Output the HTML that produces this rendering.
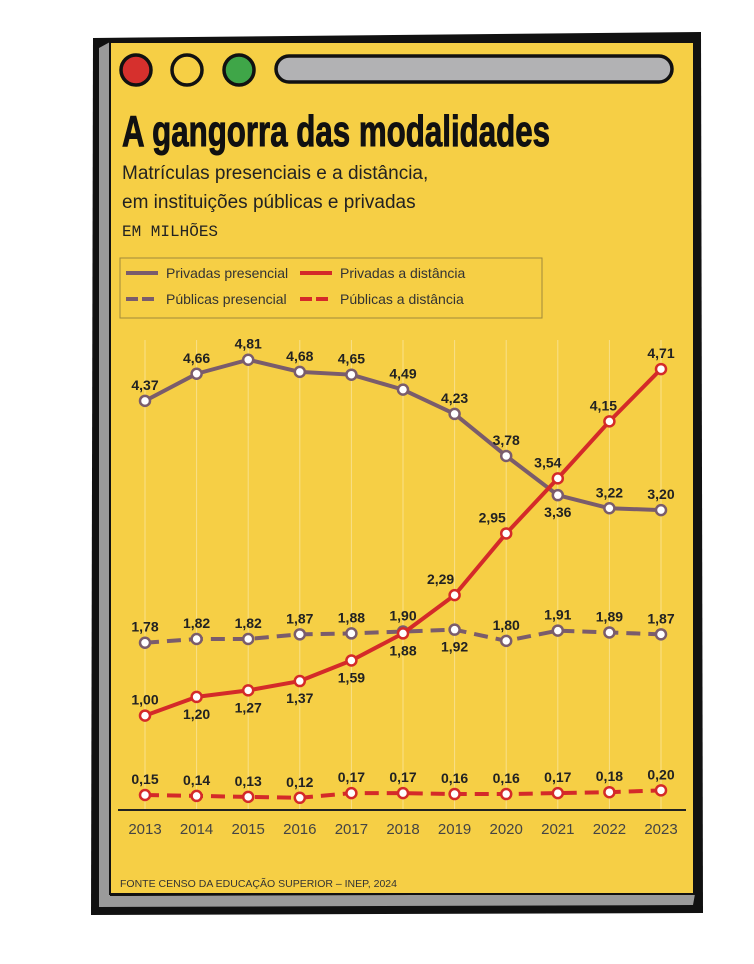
<!DOCTYPE html>
<html><head><meta charset="utf-8"><style>
body{margin:0;background:#fff;width:754px;height:959px;overflow:hidden;font-family:"Liberation Sans",sans-serif}
svg text{font-family:"Liberation Sans",sans-serif}
</style></head><body>
<svg width="754" height="959" viewBox="0 0 754 959">
  <path d="M93 38 L701 32 L703 913 L91 915 Z" fill="#111"/>
  <path d="M99 48 L110 42 L110 896 L695 894 L693 905 L99 907 Z" fill="#9a9a9a"/>
  <rect x="110" y="42" width="584" height="852" fill="#f6cf45" stroke="#111" stroke-width="2"/>
  <circle cx="136" cy="70" r="15" fill="#d6302d" stroke="#111" stroke-width="3.5"/>
  <circle cx="187" cy="70" r="15" fill="#f6cf45" stroke="#111" stroke-width="3.5"/>
  <circle cx="239" cy="70" r="15" fill="#3fa648" stroke="#111" stroke-width="3.5"/>
  <rect x="276" y="56" width="396" height="26" rx="13" fill="#b2b2b4" stroke="#111" stroke-width="3.5"/>
  <text x="122" y="146" font-size="44" font-weight="bold" fill="#111" stroke="#111" stroke-width="1" textLength="428" lengthAdjust="spacingAndGlyphs">A gangorra das modalidades</text>
  <text x="122" y="179" font-size="19" fill="#222">Matrículas presenciais e a distância,</text>
  <text x="122" y="208" font-size="19" fill="#222">em instituições públicas e privadas</text>
  <text x="122" y="236" font-size="16" fill="#222" style="font-family:'Liberation Mono',monospace">EM MILHÕES</text>
  <g>
    <rect x="120" y="258" width="422" height="60" fill="none" stroke="#a08a3a" stroke-width="1"/>
    <line x1="126" y1="273" x2="158" y2="273" stroke="#7a5c6c" stroke-width="4"/>
    <text x="166" y="278" font-size="14" fill="#333">Privadas presencial</text>
    <line x1="126" y1="299" x2="158" y2="299" stroke="#7a5c6c" stroke-width="4" stroke-dasharray="12,4"/>
    <text x="166" y="304" font-size="14" fill="#333">Públicas presencial</text>
    <line x1="300" y1="273" x2="332" y2="273" stroke="#d42a29" stroke-width="4"/>
    <text x="340" y="278" font-size="14" fill="#333">Privadas a distância</text>
    <line x1="300" y1="299" x2="332" y2="299" stroke="#d42a29" stroke-width="4" stroke-dasharray="12,4"/>
    <text x="340" y="304" font-size="14" fill="#333">Públicas a distância</text>
  </g>
  <g id="plot"></g>
  <text x="120" y="887" font-size="10.5" fill="#333">FONTE  CENSO DA EDUCAÇÃO SUPERIOR – INEP, 2024</text>
</svg>
<script>
const years=[2013,2014,2015,2016,2017,2018,2019,2020,2021,2022,2023];
const privPres=[4.37,4.66,4.81,4.68,4.65,4.49,4.23,3.78,3.36,3.22,3.20];
const privDist=[1.00,1.20,1.27,1.37,1.59,1.88,2.29,2.95,3.54,4.15,4.71];
const pubPres=[1.78,1.82,1.82,1.87,1.88,1.90,1.92,1.80,1.91,1.89,1.87];
const pubDist=[0.15,0.14,0.13,0.12,0.17,0.17,0.16,0.16,0.17,0.18,0.20];
const privPresPos=[1,1,1,1,1,1,1,1,-1,1,1];
const privDistPos=[1,-1,-1,-1,-1,-1,1,1,1,1,1];
const pubPresPos=[1,1,1,1,1,1,-1,1,1,1,1];
const pubDistPos=[1,1,1,1,1,1,1,1,1,1,1];
const NS="http://www.w3.org/2000/svg";
const g=document.getElementById('plot');
const x=i=>145+i*51.6;
const y=v=>809-v*93.4;
function mk(t,a){const e=document.createElementNS(NS,t);for(const k in a)e.setAttribute(k,a[k]);g.appendChild(e);return e;}
years.forEach((yr,i)=>{
  const l=mk('line',{x1:x(i),x2:x(i),y1:340,y2:810,stroke:'#f9e08a','stroke-width':1});
  
  
  const t=mk('text',{x:x(i),y:834,'text-anchor':'middle','font-size':15,fill:'#444'});
  t.textContent=yr;
  
  
});
const ax=mk('line',{x1:118,x2:686,y1:810,y2:810,stroke:'#222','stroke-width':2});


function series(vals,pos,color,dash,name,dx){
  const p=mk('polyline',{points:vals.map((v,i)=>x(i)+','+y(v)).join(' '),fill:'none',stroke:color,'stroke-width':4,'stroke-dasharray':dash||'none','stroke-linejoin':'round'});
  
  
  vals.forEach((v,i)=>{
    const c=mk('circle',{cx:x(i),cy:y(v),r:5,fill:'#fff',stroke:color,'stroke-width':2.5});
    
    
    const t=mk('text',{x:x(i)+(dx?dx[i]:0),y:pos[i]>0?y(v)-11:y(v)+22,'text-anchor':'middle','font-size':14,'font-weight':'bold',fill:'#222'});
    t.textContent=v.toFixed(2).replace('.',',');
    
    
  });
}
const distDx=[0,0,0,0,0,0,-14,-14,-10,-6,0];
series(pubDist,pubDistPos,'#d42a29','14,8','publicas-distancia');
series(pubPres,pubPresPos,'#7a5c6c','14,8','publicas-presencial');
series(privPres,privPresPos,'#7a5c6c',null,'privadas-presencial');
series(privDist,privDistPos,'#d42a29',null,'privadas-distancia',distDx);
</script>
</body></html>
